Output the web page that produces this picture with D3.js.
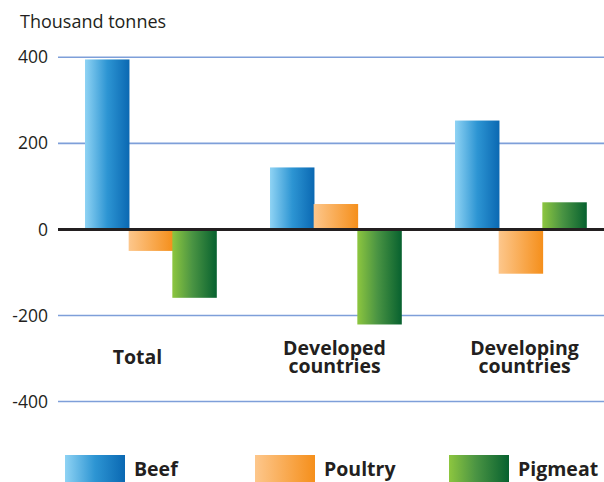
<!DOCTYPE html>
<html><head><meta charset="utf-8">
<script src="https://cdn.jsdelivr.net/npm/d3@7"></script>
<style>body{margin:0;background:#fff}svg{display:block}text{font-family:"Open Sans",sans-serif;fill:#231f20}</style>
</head><body><svg id="c" width="604" height="482"></svg>
<script>
const categories = ["Total", "Developed countries", "Developing countries"];
const categoryLines = [["Total"], ["Developed", "countries"], ["Developing", "countries"]];
const seriesNames = ["Beef", "Poultry", "Pigmeat"];
const beef = [395, 144, 253];
const poultry = [-50, 59, -103];
const pigmeat = [-159, -221, 63];
const yTicks = [400, 200, 0, -200, -400];
const unitLabel = "Thousand tonnes";

const seriesValues = [beef, poultry, pigmeat];
const grads = [["#8fd3f4", "#0a68b2"], ["#fdc78c", "#f58f1b"], ["#8dc63f", "#07612f"]];
const svg = d3.select("#c");
const defs = svg.append("defs");
grads.forEach((g, i) => {
  const lg = defs.append("linearGradient").attr("id", "g" + i).attr("x1", "0").attr("x2", "1").attr("y1", "0").attr("y2", "0");
  lg.append("stop").attr("offset", "0").attr("stop-color", g[0]);
  if (i === 0) lg.append("stop").attr("offset", "0.5").attr("stop-color", "#2d95d3");
  if (i === 2) lg.append("stop").attr("offset", "0.45").attr("stop-color", "#4a9443");
  lg.append("stop").attr("offset", "1").attr("stop-color", g[1]);
});

const y = d3.scaleLinear().domain([-400, 400]).range([401.5, 57.3]);
const x0 = d3.scaleBand().domain(categories).range([58, 613]).padding(0);
const gw = 131;
const x1 = d3.scaleBand().domain(seriesNames).range([0, gw]).padding(0);

// axis labels
const yAxis = d3.axisLeft(y).tickValues(yTicks).tickSize(0).tickPadding(10).tickFormat(d => String(d));
const ax = svg.append("g").attr("transform", "translate(58,0)").call(yAxis);
ax.select(".domain").remove();
ax.selectAll("text").attr("font-size", 17.5).attr("fill", "#231f20").attr("x", -10).attr("font-family", "Open Sans");
svg.append("g").selectAll("line").data(yTicks.filter(d => d !== 0)).join("line")
  .attr("x1", 58).attr("x2", 604).attr("y1", d => y(d)).attr("y2", d => y(d))
  .attr("stroke", "#7e9fd9").attr("stroke-width", 1.6);

// bars
const groups = svg.append("g").selectAll("g").data(categories).join("g")
  .attr("transform", c => `translate(${x0(c) + (x0.bandwidth() - gw) / 2},0)`);
groups.selectAll("rect").data((c, ci) => seriesNames.map((s, si) => ({s, si, v: seriesValues[si][ci]}))).join("rect")
  .attr("x", d => x1(d.s))
  .attr("width", x1.bandwidth() + 0.8)
  .attr("y", d => d.v >= 0 ? y(d.v) : y(0))
  .attr("height", d => Math.abs(y(d.v) - y(0)))
  .attr("fill", d => `url(#g${d.si})`);

// zero line
svg.append("line").attr("x1", 58).attr("x2", 604).attr("y1", y(0)).attr("y2", y(0))
  .attr("stroke", "#231f20").attr("stroke-width", 3);

// category labels
const labelDx = [-13, -1, 4];
categories.forEach((c, i) => {
  const cx = x0(c) + x0.bandwidth() / 2 + labelDx[i];
  const n = categoryLines[i].length;
  categoryLines[i].forEach((ln, j) => {
    svg.append("text").attr("text-anchor", "middle").attr("font-size", 19.5).attr("font-weight", "bold")
      .attr("x", cx).attr("y", n > 1 ? 355 + j * 18 : 364).text(ln);
  });
});

// unit label
svg.append("text").attr("x", 20).attr("y", 28).attr("font-size", 18).text(unitLabel);

// legend
const legX = [65, 255, 449];
seriesNames.forEach((s, i) => {
  svg.append("rect").attr("x", legX[i]).attr("y", 455).attr("width", 60).attr("height", 27).attr("fill", `url(#g${i})`);
  svg.append("text").attr("x", legX[i] + 69).attr("y", 476).attr("font-size", 19.5).attr("font-weight", "bold").text(s);
});
</script></body></html>
